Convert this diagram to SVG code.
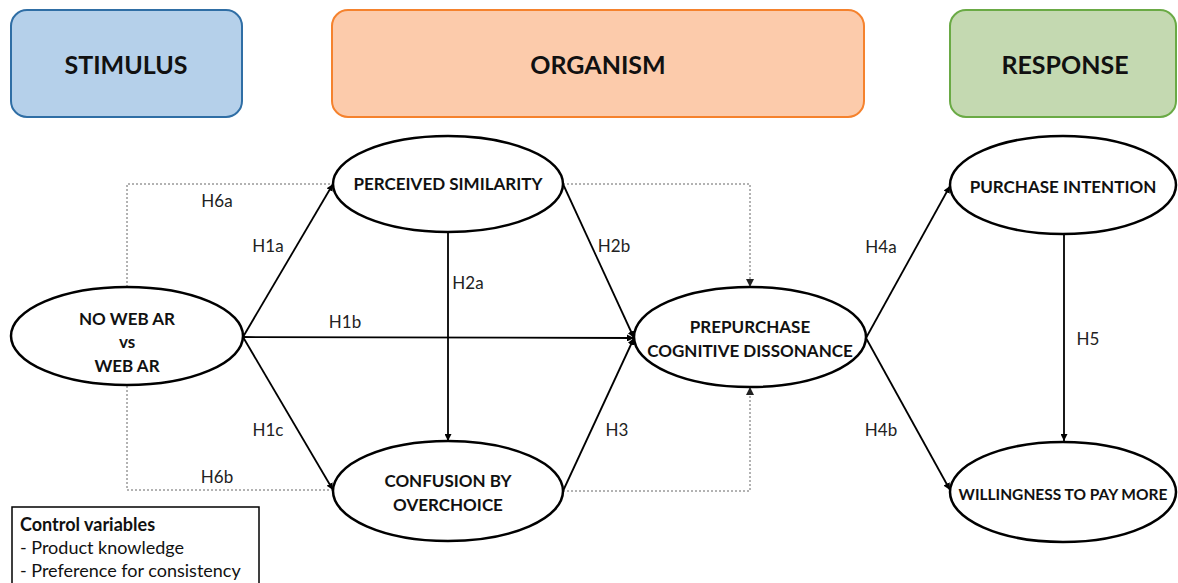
<svg xmlns="http://www.w3.org/2000/svg" width="1178" height="583" viewBox="0 0 1178 583">
<style>
.hdr{font-family:Lato,"Open Sans","Liberation Sans",sans-serif;font-weight:bold;font-size:25px;fill:#111;text-anchor:middle;dominant-baseline:central}
.node{fill:#fff;stroke:#000;stroke-width:2.5}
.nt{font-family:Lato,"Open Sans","Liberation Sans",sans-serif;font-weight:bold;font-size:17px;fill:#111;text-anchor:middle;dominant-baseline:central}
.lbl{font-family:Lato,"Open Sans","Liberation Sans",sans-serif;font-size:17px;fill:#222;text-anchor:middle;dominant-baseline:central}
.arr{fill:none;stroke:#000;stroke-width:1.8;marker-end:url(#ah)}
.dot{fill:none;stroke:#666;stroke-width:1;stroke-dasharray:2,2}
.dota{fill:none;stroke:#666;stroke-width:1;stroke-dasharray:2,2;marker-end:url(#ah2)}
.ctl{font-family:Lato,"Open Sans","Liberation Sans",sans-serif;font-size:18px;fill:#111}
</style>
<defs>
<marker id="ah" viewBox="0 0 10 10" refX="10" refY="5" markerWidth="7" markerHeight="7" markerUnits="userSpaceOnUse" orient="auto"><path d="M0,0 L10,5 L0,10 z" fill="#000"/></marker>
<marker id="ah2" viewBox="0 0 10 10" refX="10" refY="5" markerWidth="8" markerHeight="8" markerUnits="userSpaceOnUse" orient="auto"><path d="M0,0 L10,5 L0,10 z" fill="#222"/></marker>
</defs>
<rect width="1178" height="583" fill="#fff"/>
<g id="stimulus"><rect x="11" y="10" width="231" height="107" rx="16" fill="#b5d0ea" stroke="#2f6ea5" stroke-width="2"/><text class="hdr" x="126" y="64">STIMULUS</text></g>
<g id="organism"><rect x="332" y="10" width="532" height="107" rx="16" fill="#fccbab" stroke="#f5822d" stroke-width="2"/><text class="hdr" x="598" y="64">ORGANISM</text></g>
<g id="response"><rect x="950" y="10" width="226" height="107" rx="16" fill="#c4d9b1" stroke="#6aaa45" stroke-width="2"/><text class="hdr" x="1065" y="64">RESPONSE</text></g>
<g id="connectors">
<path class="dot" d="M127,287 V184 H333"/>
<path class="dota" d="M563,184 H750 V287"/>
<path class="dot" d="M127,386 V490 H333"/>
<path class="dota" d="M563,491 H750 V387"/>
<path class="arr" d="M243,337 L333,184"/>
<path class="arr" d="M243,337 L634,338"/>
<path class="arr" d="M243,337 L333,490"/>
<path class="arr" d="M448,232 V441"/>
<path class="arr" d="M563,184 L634,338"/>
<path class="arr" d="M563,491 L634,338"/>
<path class="arr" d="M866,338 L950,186"/>
<path class="arr" d="M866,338 L950,490"/>
<path class="arr" d="M1064,233 V441"/>
<text class="lbl" x="217" y="200">H6a</text>
<text class="lbl" x="268" y="245">H1a</text>
<text class="lbl" x="345" y="321">H1b</text>
<text class="lbl" x="268" y="429">H1c</text>
<text class="lbl" x="217" y="476">H6b</text>
<text class="lbl" x="468" y="282">H2a</text>
<text class="lbl" x="614" y="245">H2b</text>
<text class="lbl" x="617" y="429">H3</text>
<text class="lbl" x="881" y="246">H4a</text>
<text class="lbl" x="881" y="429">H4b</text>
<text class="lbl" x="1088" y="338">H5</text>
</g>
<g id="noweb"><ellipse class="node" cx="127" cy="336" rx="116" ry="49"/><text class="nt" x="127" y="318">NO WEB AR</text><text class="nt" x="127" y="341">vs</text><text class="nt" x="127" y="365">WEB AR</text></g>
<g id="similarity"><ellipse class="node" cx="448" cy="184" rx="115" ry="48"/><text class="nt" x="448" y="183">PERCEIVED SIMILARITY</text></g>
<g id="confusion"><ellipse class="node" cx="448" cy="491" rx="115" ry="50"/><text class="nt" x="448" y="480">CONFUSION BY</text><text class="nt" x="448" y="504">OVERCHOICE</text></g>
<g id="dissonance"><ellipse class="node" cx="750" cy="337" rx="116" ry="50"/><text class="nt" x="750" y="326">PREPURCHASE</text><text class="nt" x="750" y="350">COGNITIVE DISSONANCE</text></g>
<g id="intention"><ellipse class="node" cx="1063" cy="185" rx="113" ry="49"/><text class="nt" x="1063" y="186">PURCHASE INTENTION</text></g>
<g id="wtp"><ellipse class="node" cx="1063" cy="492" rx="113" ry="50"/><text class="nt" x="1063" y="494" style="font-size:15.5px">WILLINGNESS TO PAY MORE</text></g>
<g id="controls"><rect x="12" y="507" width="247" height="90" fill="#fff" stroke="#000" stroke-width="1.5"/>
<text class="ctl" x="20" y="531" font-weight="bold">Control variables</text>
<text class="ctl" x="20" y="554">- Product knowledge</text>
<text class="ctl" x="20" y="577">- Preference for consistency</text></g>
</svg>
